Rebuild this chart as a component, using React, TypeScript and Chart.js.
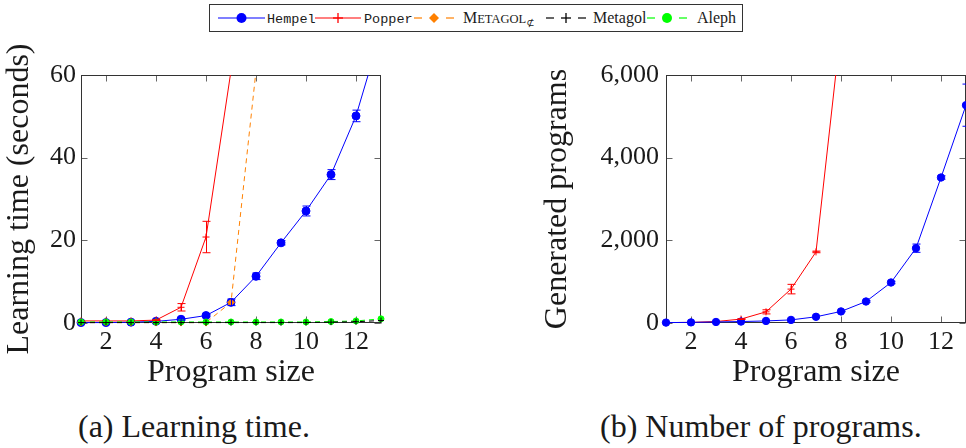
import React, { useEffect, useRef } from "react";
import { Chart, registerables } from "chart.js";

Chart.register(...registerables);

// ---------- data ----------
const programSizes = [1, 2, 3, 4, 5, 6, 7, 8, 9, 10, 11, 12, 13];
const xTickValues = [2, 4, 6, 8, 10, 12];
const timeTickValues = [0, 20, 40, 60];
const programTickValues = [0, 2000, 4000, 6000];

// (a) learning time (seconds)
const hempelTime = [0.1, 0.1, 0.2, 0.4, 0.9, 1.8, 5.0, 11.3, 19.4, 27.1, 35.9, 50.1, 70.5];
const hempelTimeErr = [0, 0, 0, 0, 0.2, 0.3, 0.8, 0.8, 0.5, 1.2, 1.2, 1.4, 2.0];
const popperTime = [0.5, 0.5, 0.5, 0.7, 3.8, 20.8, 61];
const popperTimeErr = [0, 0, 0, 0.1, 0.9, 3.8, 0];
const metagolNegTime = [0.1, 0.1, 0.1, 0.1, 0.1, 0.1, 5.0, 61];
const metagolTime = [0.1, 0.1, 0.1, 0.1, 0.1, 0.1, 0.1, 0.1, 0.1, 0.1, 0.2, 0.3, 0.6];
const alephTime = [0.25, 0.25, 0.25, 0.25, 0.25, 0.25, 0.25, 0.25, 0.25, 0.25, 0.35, 0.5, 1.0];

// (b) number of generated programs
const hempelPrograms = [10, 15, 25, 35, 50, 75, 150, 280, 520, 980, 1810, 3520, 5270];
const hempelProgramsErr = [0, 0, 0, 0, 0, 0, 0, 10, 20, 30, 100, 40, 510];
const popperPrograms = [10, 15, 35, 95, 270, 820, 1720, 7150];
const popperProgramsErr = [0, 0, 0, 10, 50, 115, 20, 0];

// ---------- styling ----------
const SERIF = "'Liberation Serif', 'DejaVu Serif', serif";
const MONO = "'Liberation Mono', 'DejaVu Sans Mono', monospace";
const TEXT = "#1a1a1a";
const BLUE = "#0000ff";
const RED = "#ff0000";
const ORANGE = "#ff8000";
const BLACK = "#000000";
const GREEN = "#00ff00";

const pts = (vals: number[]) => vals.map((v, i) => ({ x: programSizes[i], y: v }));

const errorBarPlugin = {
  id: "errorBars",
  afterDatasetsDraw(chart: any) {
    const { ctx, chartArea: a, scales } = chart;
    const xs = scales.x;
    const ys = scales.y;
    ctx.save();
    ctx.beginPath();
    ctx.rect(a.left - 10, a.top, a.right - a.left + 40, a.bottom - a.top + 10);
    ctx.clip();
    chart.data.datasets.forEach((ds: any) => {
      const errs = ds.errors;
      if (!errs) return;
      ctx.strokeStyle = ds.borderColor;
      ctx.lineWidth = 1;
      ctx.setLineDash([]);
      ds.data.forEach((p: any, i: number) => {
        const e = errs[i];
        if (!e) return;
        const px = Math.round(xs.getPixelForValue(p.x)) + 0.5;
        const y1 = ys.getPixelForValue(p.y - e);
        const y2 = ys.getPixelForValue(p.y + e);
        ctx.beginPath();
        ctx.moveTo(px, y1);
        ctx.lineTo(px, y2);
        ctx.moveTo(px - 4, y1);
        ctx.lineTo(px + 4, y1);
        ctx.moveTo(px - 4, y2);
        ctx.lineTo(px + 4, y2);
        ctx.stroke();
      });
    });
    ctx.restore();
  },
};

const framePlugin = {
  id: "frame",
  beforeDatasetsDraw(chart: any) {
    const { ctx, chartArea: a, scales } = chart;
    const xs = scales.x;
    const ys = scales.y;
    const L = Math.round(a.left) + 0.5;
    const R = Math.round(a.right) - 0.5;
    const T = Math.round(a.top) + 0.5;
    const B = Math.round(a.bottom) - 0.5;
    ctx.save();
    ctx.lineWidth = 1;
    ctx.strokeStyle = "#666666";
    ctx.beginPath();
    xs.ticks.forEach((t: any) => {
      const px = Math.round(xs.getPixelForValue(t.value)) + 0.5;
      ctx.moveTo(px, B);
      ctx.lineTo(px, B - 6);
      ctx.moveTo(px, T);
      ctx.lineTo(px, T + 6);
    });
    ys.ticks.forEach((t: any) => {
      const py = Math.round(ys.getPixelForValue(t.value)) + 0.5;
      ctx.moveTo(L, py);
      ctx.lineTo(L + 6, py);
      ctx.moveTo(R, py);
      ctx.lineTo(R - 6, py);
    });
    ctx.stroke();
    ctx.strokeStyle = "#333333";
    ctx.strokeRect(L, T, R - L, B - T);
    ctx.restore();
  },
};

function buildOptions(opts: {
  yMax: number;
  yTicks: number[];
  yTitle: string;
  yWidth: number;
  padRight: number;
  tickPad: number;
  fmt: (v: number) => string;
}) {
  return {
    responsive: false,
    animation: false as const,
    layout: { padding: { left: 0, right: opts.padRight, top: 35, bottom: 8 } },
    plugins: { legend: { display: false }, tooltip: { enabled: false } },
    elements: { line: { tension: 0 } },
    scales: {
      x: {
        type: "linear" as const,
        min: 1,
        max: 13,
        afterBuildTicks: (s: any) => {
          s.ticks = xTickValues.map((v) => ({ value: v }));
        },
        afterFit: (s: any) => {
          s.height = 69;
        },
        grid: { display: false, drawTicks: false },
        border: { display: false },
        ticks: {
          font: { size: 26, family: SERIF },
          color: TEXT,
          padding: 4,
          maxRotation: 0,
          autoSkip: false,
        },
        title: {
          display: true,
          text: "Program size",
          font: { size: 32, family: SERIF },
          color: TEXT,
          padding: { top: 0, bottom: 0 },
        },
      },
      y: {
        type: "linear" as const,
        min: 0,
        max: opts.yMax,
        afterBuildTicks: (s: any) => {
          s.ticks = opts.yTicks.map((v) => ({ value: v }));
        },
        afterFit: (s: any) => {
          s.width = opts.yWidth;
        },
        grid: { display: false, drawTicks: false },
        border: { display: false },
        ticks: {
          font: { size: 26, family: SERIF },
          color: TEXT,
          padding: opts.tickPad,
          autoSkip: false,
          callback: (v: any) => opts.fmt(Number(v)),
        },
        title: {
          display: true,
          text: opts.yTitle,
          font: { size: 32, family: SERIF },
          color: TEXT,
          padding: { top: 0, bottom: 0 },
        },
      },
    },
  };
}

function LearningTimeChart() {
  const ref = useRef<HTMLCanvasElement | null>(null);
  useEffect(() => {
    if (!ref.current) return;
    const clip = { left: 8, right: 8, top: 0, bottom: 8 };
    const chart = new Chart(ref.current, {
      type: "line",
      data: {
        datasets: [
          {
            label: "Hempel",
            data: pts(hempelTime),
            errors: hempelTimeErr,
            borderColor: BLUE,
            backgroundColor: BLUE,
            borderWidth: 1,
            pointStyle: "circle",
            pointRadius: 4,
            pointBorderWidth: 1,
            order: 4,
            clip,
          } as any,
          {
            label: "Popper",
            data: pts(popperTime),
            errors: popperTimeErr,
            borderColor: RED,
            backgroundColor: RED,
            borderWidth: 1,
            pointStyle: "cross",
            pointRadius: 3.5,
            pointBorderWidth: 1,
            order: 3,
            clip,
          } as any,
          {
            label: "Metagol-neg",
            data: pts(metagolNegTime),
            borderColor: ORANGE,
            backgroundColor: ORANGE,
            borderWidth: 1,
            borderDash: [5, 4],
            pointStyle: "rectRot",
            pointRadius: 3.5,
            pointBorderWidth: 1,
            order: 2,
            clip,
          } as any,
          {
            label: "Aleph",
            data: pts(alephTime),
            borderColor: GREEN,
            backgroundColor: GREEN,
            borderWidth: 1,
            borderDash: [5, 4],
            pointStyle: "circle",
            pointRadius: 3,
            pointBorderWidth: 1,
            order: 1,
            clip,
          } as any,
          {
            label: "Metagol",
            data: pts(metagolTime),
            borderColor: BLACK,
            backgroundColor: BLACK,
            borderWidth: 1,
            borderDash: [5, 4],
            pointStyle: "cross",
            pointRadius: 3,
            pointBorderWidth: 1,
            order: 0,
            clip,
          } as any,
        ],
      },
      options: buildOptions({
        yMax: 60,
        yTicks: timeTickValues,
        yTitle: "Learning time (seconds)",
        yWidth: 81,
        padRight: 19,
        tickPad: 5,
        fmt: (v) => String(v),
      }) as any,
      plugins: [framePlugin, errorBarPlugin],
    });
    return () => chart.destroy();
  }, []);
  return (
    <canvas
      ref={ref}
      width={400}
      height={360}
      style={{ position: "absolute", left: 0, top: 40, width: 400, height: 360 }}
    />
  );
}

function ProgramsChart() {
  const ref = useRef<HTMLCanvasElement | null>(null);
  useEffect(() => {
    if (!ref.current) return;
    const clip = { left: 8, right: 14, top: 0, bottom: 8 };
    const chart = new Chart(ref.current, {
      type: "line",
      data: {
        datasets: [
          {
            label: "Hempel",
            data: pts(hempelPrograms),
            errors: hempelProgramsErr,
            borderColor: BLUE,
            backgroundColor: BLUE,
            borderWidth: 1,
            pointStyle: "circle",
            pointRadius: 3.7,
            pointBorderWidth: 1,
            order: 0,
            clip,
          } as any,
          {
            label: "Popper",
            data: pts(popperPrograms),
            errors: popperProgramsErr,
            borderColor: RED,
            backgroundColor: RED,
            borderWidth: 1,
            pointStyle: "cross",
            pointRadius: 3.5,
            pointBorderWidth: 1,
            order: 1,
            clip,
          } as any,
        ],
      },
      options: buildOptions({
        yMax: 6000,
        yTicks: programTickValues,
        yTitle: "Generated programs",
        yWidth: 128,
        padRight: 14,
        tickPad: 7,
        fmt: (v) => v.toLocaleString("en-US"),
      }) as any,
      plugins: [framePlugin, errorBarPlugin],
    });
    return () => chart.destroy();
  }, []);
  return (
    <canvas
      ref={ref}
      width={442}
      height={360}
      style={{ position: "absolute", left: 538, top: 40, width: 442, height: 360 }}
    />
  );
}

function Symbol({
  color,
  dashed,
  marker,
  width,
}: {
  color: string;
  dashed: boolean;
  marker: "circle" | "plus" | "diamond";
  width: number;
}) {
  const c = width / 2;
  const y = 14;
  return (
    <svg width={width} height={28} style={{ position: "absolute", left: 0, top: 0 }}>
      {dashed ? (
        <g stroke={color} strokeWidth={1.2}>
          <line x1={0} y1={y} x2={8} y2={y} />
          <line x1={width - 8} y1={y} x2={width} y2={y} />
        </g>
      ) : (
        <line x1={0} y1={y} x2={width} y2={y} stroke={color} strokeWidth={1.2} />
      )}
      {marker === "circle" && <circle cx={c} cy={y} r={5} fill={color} />}
      {marker === "diamond" && (
        <polygon points={`${c},${y - 5} ${c + 5},${y} ${c},${y + 5} ${c - 5},${y}`} fill={color} />
      )}
      {marker === "plus" && (
        <g stroke={color} strokeWidth={1.3}>
          <line x1={c - 5} y1={y} x2={c + 5} y2={y} />
          <line x1={c} y1={y - 5} x2={c} y2={y + 5} />
        </g>
      )}
    </svg>
  );
}

function LegendItem({
  left,
  symW,
  textLeft,
  color,
  dashed,
  marker,
  children,
}: {
  left: number;
  symW: number;
  textLeft: number;
  color: string;
  dashed: boolean;
  marker: "circle" | "plus" | "diamond";
  children: React.ReactNode;
}) {
  return (
    <>
      <div style={{ position: "absolute", left, top: 0, width: symW, height: 28 }}>
        <Symbol color={color} dashed={dashed} marker={marker} width={symW} />
      </div>
      <div
        style={{
          position: "absolute",
          left: textLeft,
          top: 0,
          height: 28,
          lineHeight: "28px",
          whiteSpace: "nowrap",
          color: TEXT,
        }}
      >
        {children}
      </div>
    </>
  );
}

function Legend() {
  // positions relative to the legend box (box left edge at page x = 209)
  return (
    <div
      style={{
        position: "absolute",
        left: 209,
        top: 4,
        width: 532,
        height: 26,
        border: "1px solid #333",
        background: "#fff",
      }}
    >
      <div style={{ position: "absolute", left: 0, top: -1, width: 532, height: 28 }}>
        <LegendItem left={8} symW={47} textLeft={57} color={BLUE} dashed={false} marker="circle">
          <span style={{ fontFamily: MONO, fontSize: 13.5 }}>Hempel</span>
        </LegendItem>
        <LegendItem left={105} symW={46} textLeft={154} color={RED} dashed={false} marker="plus">
          <span style={{ fontFamily: MONO, fontSize: 13.5 }}>Popper</span>
        </LegendItem>
        <LegendItem left={204} symW={40} textLeft={253} color={ORANGE} dashed={true} marker="diamond">
          <span style={{ fontFamily: SERIF, fontSize: 16 }}>
            M<span style={{ fontSize: 12.5 }}>ETAGOL</span>
            <sub style={{ fontSize: 10, verticalAlign: "-3px" }}>⊄</sub>
          </span>
        </LegendItem>
        <LegendItem left={336} symW={40} textLeft={383} color={BLACK} dashed={true} marker="plus">
          <span style={{ fontFamily: SERIF, fontSize: 16 }}>Metagol</span>
        </LegendItem>
        <LegendItem left={437} symW={40} textLeft={487} color={GREEN} dashed={true} marker="circle">
          <span style={{ fontFamily: SERIF, fontSize: 16 }}>Aleph</span>
        </LegendItem>
      </div>
    </div>
  );
}

export default function App() {
  return (
    <div
      style={{
        position: "fixed",
        left: 0,
        top: 0,
        width: 966,
        height: 448,
        overflow: "hidden",
        background: "#ffffff",
        fontFamily: SERIF,
      }}
    >
      <Legend />
      <LearningTimeChart />
      <ProgramsChart />
      <div
        style={{
          position: "absolute",
          left: 78,
          top: 411,
          fontSize: 32,
          lineHeight: "31px",
          color: TEXT,
          whiteSpace: "nowrap",
        }}
      >
        (a) Learning time.
      </div>
      <div
        style={{
          position: "absolute",
          left: 600,
          top: 411,
          fontSize: 32,
          lineHeight: "31px",
          color: TEXT,
          whiteSpace: "nowrap",
        }}
      >
        (b) Number of programs.
      </div>
    </div>
  );
}
